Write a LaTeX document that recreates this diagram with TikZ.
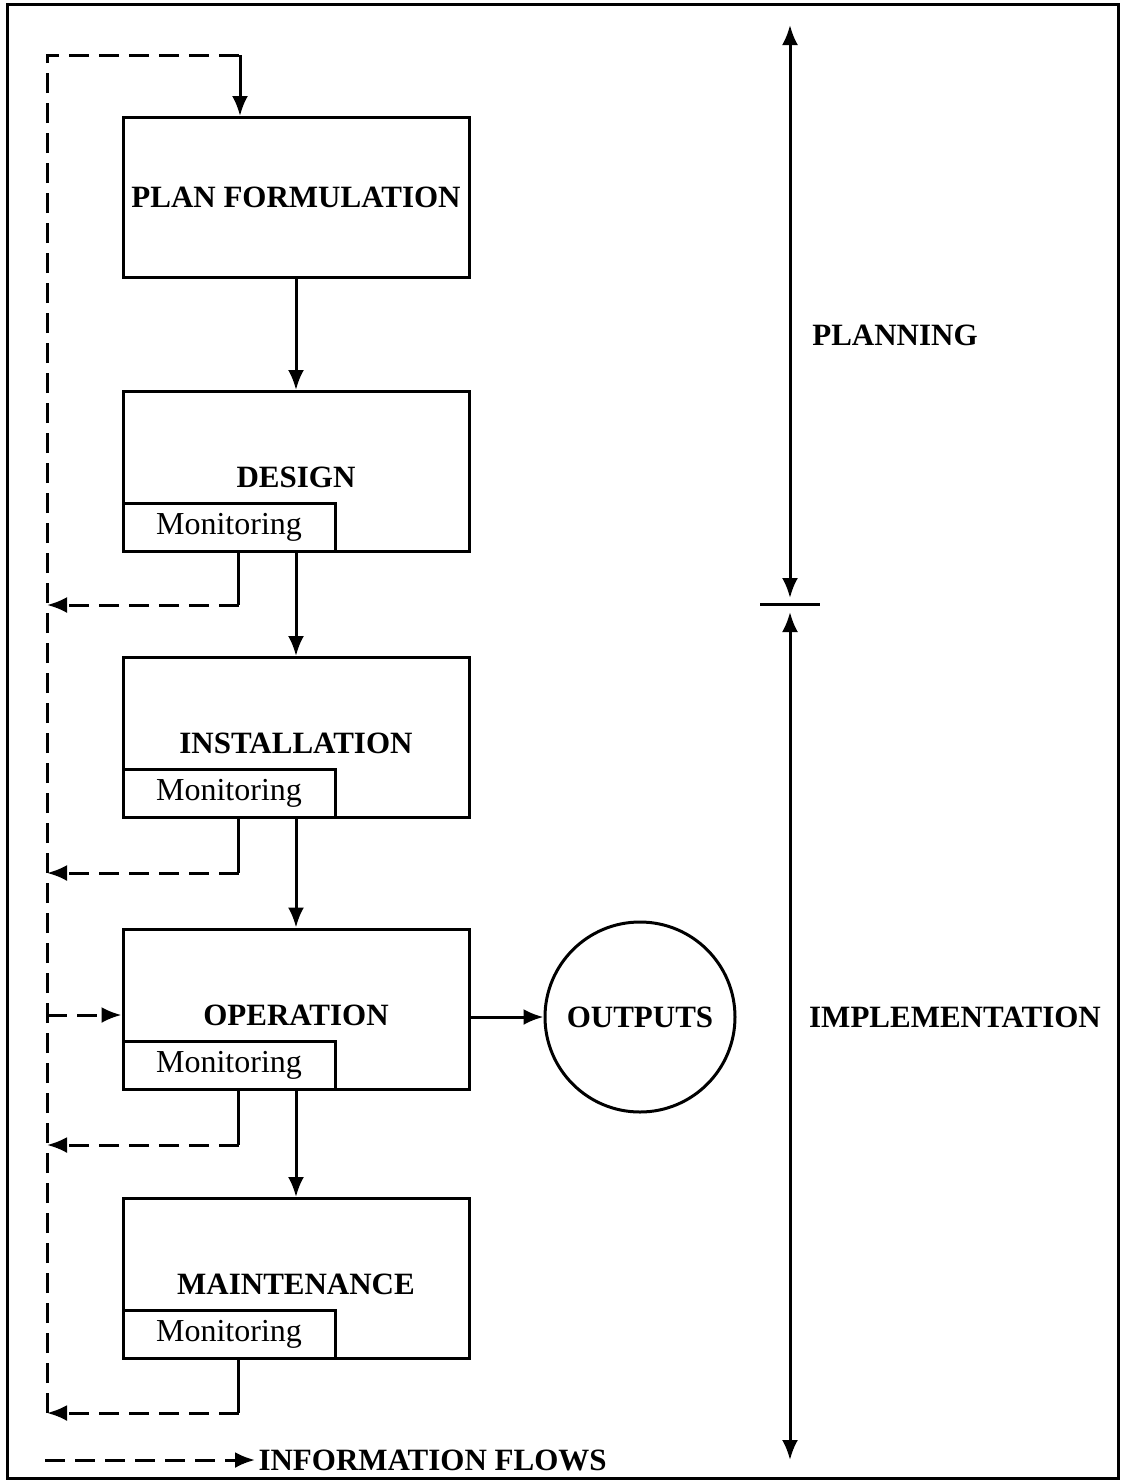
\documentclass[tikz,border=0pt]{standalone}
\usepackage{fontspec}
\setmainfont{Liberation Serif}
\usetikzlibrary{arrows.meta}

\begin{document}
\begin{tikzpicture}[x=0.5pt, y=-0.5pt, line width=1.5pt,
    >={Latex[length=10pt,width=8pt]},
    stage/.style={draw, minimum width=173pt, minimum height=80pt, inner sep=0pt,
      font=\fontsize{15.5}{18}\selectfont\bfseries},
    monstage/.style={stage, text height=16pt, text depth=0pt},
    monbox/.style={draw, anchor=south west, minimum width=106pt, minimum height=24pt,
      inner sep=0pt, font=\fontsize{16}{18}\selectfont},
    info/.style={dash pattern=on 10pt off 5pt},
    tag/.style={font=\fontsize{15.5}{18}\selectfont\bfseries}]
        \useasboundingbox (0,0) rectangle (1128,1484);
        % Moldura
        \draw (7,4) rectangle (1118,1478);

        % Etapas
        \node[stage] (plan) at (296,197.5) {PLAN FORMULATION};
        \node[monstage] (design) at (296,471.5) {DESIGN};
        \node[monstage] (install) at (296,737.5) {INSTALLATION};
        \node[monstage] (operation) at (296,1009) {OPERATION};
        \node[monstage] (maint) at (296,1278.5) {MAINTENANCE};

        % Monitoramento
        \node[monbox] (dmon) at (design.south west) {Monitoring};
        \node[monbox] (imon) at (install.south west) {Monitoring};
        \node[monbox] (omon) at (operation.south west) {Monitoring};
        \node[monbox] (mmon) at (maint.south west) {Monitoring};

        % Saidas
        \node[draw, circle, minimum size=95pt, inner sep=0pt, tag] (out) at (640,1017) {OUTPUTS};

        % Setas entre etapas
        \draw[->] (plan) -- (design);
        \draw[->] (design) -- (install);
        \draw[->] (install) -- (operation);
        \draw[->] (operation) -- (maint);
        \draw[->] (operation.east |- out) -- (out);

        % Fluxos de informacao
        \coordinate (bus1) at (47,605);
        \coordinate (bus2) at (47,873);
        \coordinate (bus3) at (47,1145);
        \coordinate (bus4) at (47,1413);
        \coordinate (busop) at (47,1015);
        \coordinate (top) at (47,55);
        \coordinate (turn) at (240,55);
        \foreach \m/\b in {dmon/bus1, imon/bus2, omon/bus3, mmon/bus4} {
          \draw ([xshift=58.5pt]\m.south west) -- ([xshift=58.5pt]\m.south west |- \b);
          \draw[info, ->] ([xshift=58.5pt]\m.south west |- \b) -- (\b);
        }
        \draw[info] (bus4) -- (top) -- (turn);
        \draw[->] (turn) -- (plan.north -| turn);
        \draw[info, ->] (busop) -- (busop -| operation.west);

        % Escala planejamento / implementacao
        \coordinate (ptop) at (790,25);
        \coordinate (split) at (790,604);
        \coordinate (pbot) at (790,1460);
        \draw[<->] (ptop) -- ([yshift=3pt]split);
        \draw[<->] ([yshift=-4pt]split) -- (pbot);
        \draw ([xshift=-15pt]split) -- ([xshift=15pt]split);
        \node[tag] (planning) at (895,335) {PLANNING};
        \node[tag] (implem) at (955,1017) {IMPLEMENTATION};

        % Legenda
        \coordinate (key) at (45,1460);
        \node[tag, anchor=west, inner sep=1pt] (keytext) at (255,1460) {INFORMATION FLOWS};
        \draw[info, ->] (key) -- (keytext.west);
\end{tikzpicture}
\end{document}
